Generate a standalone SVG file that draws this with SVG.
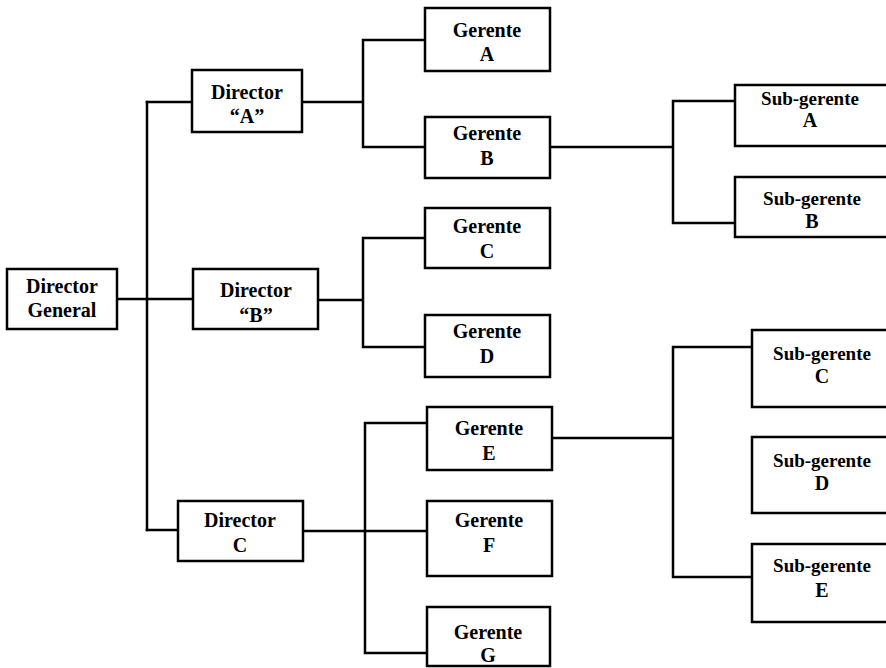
<svg xmlns="http://www.w3.org/2000/svg" width="886" height="668" viewBox="0 0 886 668">
<style>
.box{fill:#fff;stroke:#000;stroke-width:2.5}
.ln{fill:none;stroke:#000;stroke-width:2.5;stroke-linecap:square}
text{font-family:"Liberation Serif","Times New Roman",serif;font-weight:bold;font-size:20px;fill:#000;text-anchor:middle}
text.s{font-size:19px}
</style>
<rect width="886" height="668" fill="#fff"/>
<g id="connectors" class="ln">
<path d="M147,102 V530"/>
<path d="M192,102 H147"/>
<path d="M117,299 H193"/>
<path d="M147,530 H178"/>
<path d="M302,102 H363 M363,40 V147 M363,40 H425 M363,147 H425"/>
<path d="M318,300 H363 M363,238 V347 M363,238 H425 M363,347 H425"/>
<path d="M303,531 H427 M365,423 V653 M365,423 H427 M365,653 H427"/>
<path d="M550,147 H673 M673,101 V223 M673,101 H735 M673,223 H735"/>
<path d="M552,438 H673 M673,347 V577 M673,347 H752 M673,577 H752"/>
</g>
<g id="director-general"><rect class="box" x="7" y="269" width="110" height="60"/><text x="62" y="293">Director</text><text x="62" y="317">General</text></g>
<g id="director-a"><rect class="box" x="192" y="70" width="110" height="62"/><text x="247" y="99">Director</text><text x="247" y="123">“A”</text></g>
<g id="director-b"><rect class="box" x="193" y="269" width="125" height="60"/><text x="256" y="297">Director</text><text x="256" y="322">“B”</text></g>
<g id="director-c"><rect class="box" x="178" y="501" width="125" height="60"/><text x="240" y="527">Director</text><text x="240" y="552">C</text></g>
<g id="gerente-a"><rect class="box" x="425" y="8" width="125" height="63"/><text x="487" y="37">Gerente</text><text x="487" y="61">A</text></g>
<g id="gerente-b"><rect class="box" x="425" y="117" width="125" height="61"/><text x="487" y="140">Gerente</text><text x="487" y="165">B</text></g>
<g id="gerente-c"><rect class="box" x="425" y="208" width="125" height="60"/><text x="487" y="233">Gerente</text><text x="487" y="258">C</text></g>
<g id="gerente-d"><rect class="box" x="425" y="315" width="125" height="62"/><text x="487" y="338">Gerente</text><text x="487" y="363">D</text></g>
<g id="gerente-e"><rect class="box" x="427" y="407" width="125" height="63"/><text x="489" y="435">Gerente</text><text x="489" y="460">E</text></g>
<g id="gerente-f"><rect class="box" x="427" y="501" width="125" height="75"/><text x="489" y="527">Gerente</text><text x="489" y="552">F</text></g>
<g id="gerente-g"><rect class="box" x="427" y="607" width="123" height="59"/><text x="488" y="639">Gerente</text><text x="488" y="662">G</text></g>
<g id="subgerente-a"><rect class="box" x="735" y="85" width="160" height="61"/><text class="s" x="810" y="105">Sub-gerente</text><text x="810" y="127">A</text></g>
<g id="subgerente-b"><rect class="box" x="735" y="177" width="160" height="60"/><text class="s" x="812" y="205">Sub-gerente</text><text x="812" y="228">B</text></g>
<g id="subgerente-c"><rect class="box" x="752" y="330" width="145" height="77"/><text class="s" x="822" y="360">Sub-gerente</text><text x="822" y="383">C</text></g>
<g id="subgerente-d"><rect class="box" x="752" y="437" width="145" height="76"/><text class="s" x="822" y="467">Sub-gerente</text><text x="822" y="490">D</text></g>
<g id="subgerente-e"><rect class="box" x="752" y="544" width="145" height="78"/><text class="s" x="822" y="572">Sub-gerente</text><text x="822" y="597">E</text></g>
</svg>
